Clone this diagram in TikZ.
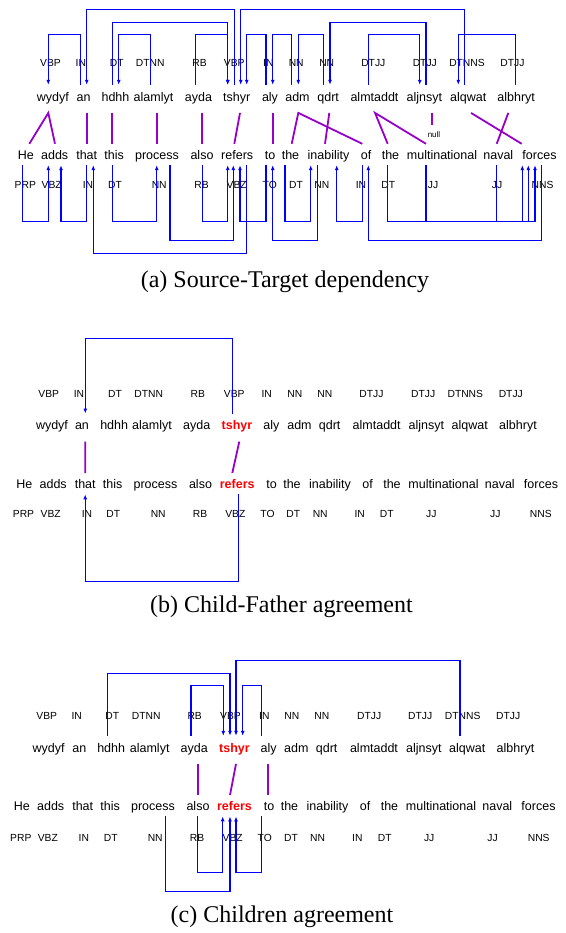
\documentclass[tikz,border=0pt]{standalone}
\usepackage{fontspec}
\setmainfont{Liberation Serif}
\newfontfamily\sansf{Liberation Sans}
\usetikzlibrary{arrows.meta}
\definecolor{deppurple}{RGB}{150,0,200}
\definecolor{depblue}{RGB}{0,0,255}
\newcommand\hlw[1]{\textcolor{red}{\bfseries #1}}
\begin{document}
\begin{tikzpicture}[x=1pt,y=-1pt,
  tw/.style={anchor=base, font=\sansf\fontsize{12.5}{14}\selectfont, inner sep=0pt, text height=16.2pt, text depth=11.5pt},
  bw/.style={anchor=base, font=\sansf\fontsize{12.5}{14}\selectfont, inner sep=0pt, text height=15.7pt, text depth=5.3pt},
  tag/.style={font=\sansf\fontsize{10.3}{12}\selectfont, inner sep=0pt, text height=7.4pt, text depth=0pt},
  nulltag/.style={font=\sansf\fontsize{8}{9}\selectfont, inner xsep=0pt, inner ysep=6.4pt, text height=5.8pt, text depth=0pt},
  dep/.style={draw=depblue, line width=1.1pt, -{Latex[length=5pt,width=4pt]}},
  link/.style={draw=deppurple, line width=1.8pt},
  captext/.style={font=\fontsize{24}{28}\selectfont, inner sep=0pt}]
\useasboundingbox (0,0) rectangle (565,933);

% ================= Panel (a) =================
\foreach \x/\w [count=\i] in {50.5/VBP,80.8/IN,116.7/DT,150.3/DTNN,199.5/RB,234.2/VBP,268.3/IN,296.2/NN,326.7/NN,373.3/DTJJ,424.8/DTJJ,467/DTNNS,512.5/DTJJ}
  \node[tag] (a-ut\i) at (\x,63.3) {\w};
\foreach \x/\w [count=\i] in {52.8/wydyf,83.7/an,115.5/hdhh,153.5/alamlyt,198.5/ayda,236.7/tshyr,270/aly,297.5/adm,328.2/qdrt,374.5/almtaddt,424.3/aljnsyt,468.2/alqwat,516.2/albhryt}
  \node[tw] (a-t\i) at (\x,101.2) {\w};
\foreach \x/\w [count=\i] in {25.8/He,54.7/adds,86.7/that,114.2/this,157/process,202/also,237.2/refers,270.2/to,290.5/the,328.5/inability,366.2/of,390.5/the,442/multinational,498.3/naval,539.5/forces}
  \node[bw] (a-b\i) at (\x,159.7) {\w};
\foreach \x/\w [count=\i] in {25.3/PRP,51.7/VBZ,88/IN,115/DT,159.2/NN,201.5/RB,236.7/VBZ,269.7/TO,296/DT,321.8/NN,361/IN,388.3/DT,433/JJ,497/JJ,542.5/NNS}
  \node[tag] (a-lt\i) at (\x,185) {\w};
\node[nulltag] (a-null) at (434,134.3) {null};

% top dependencies
\draw[dep] ([xshift=-3.4pt]a-t2.north) -- ++(0,-50) -| ([xshift=-4.5pt]a-t1.north);
\draw[dep] ([xshift=-2.4pt]a-t6.north) -- ++(0,-75) -| ([xshift=3pt]a-t2.north);
\draw[dep] ([xshift=-3.2pt]a-t3.north) -- ++(0,-62.5) -| ([xshift=-9pt]a-t6.north);
\draw[dep] ([xshift=-3.2pt]a-t4.north) -- ++(0,-50) -| ([xshift=3.2pt]a-t3.north);
\draw[dep] ([xshift=-2.8pt]a-t5.north) -- ++(0,-50) -| ([xshift=-9pt]a-t6.north);
\draw[dep] ([xshift=-3.9pt]a-t12.north) -- ++(0,-75) -| ([xshift=4pt]a-t6.north);
\draw[dep] ([xshift=-4pt]a-t7.north) -- ++(0,-50) -| ([xshift=10pt]a-t6.north);
\draw[dep] ([xshift=-5.8pt]a-t8.north) -- ++(0,-50) -| ([xshift=2.7pt]a-t7.north);
\draw[dep] ([xshift=-4.9pt]a-t9.north) -- ++(0,-50) -| ([xshift=0.8pt]a-t8.north);
\draw[dep] ([xshift=1.7pt]a-t11.north) -- ++(0,-62.5) -| ([xshift=1.8pt]a-t9.north);
\draw[dep] ([xshift=-6.2pt]a-t10.north) -- ++(0,-50) -| ([xshift=-4.6pt]a-t11.north);
\draw[dep] ([xshift=-0.5pt]a-t13.north) -- ++(0,-50) -| ([xshift=-9.9pt]a-t12.north);

% bottom dependencies
\draw[dep] ([xshift=-3.1pt]a-b1.south) -- ++(0,56) -| ([xshift=-6.4pt]a-b2.south);
\draw[dep] ([xshift=0pt]a-b3.south) -- ++(0,56) -| ([xshift=6.3pt]a-b2.south);
\draw[dep] ([xshift=9.5pt]a-b7.south) -- ++(0,88) -| ([xshift=6.6pt]a-b3.south);
\draw[dep] ([xshift=-1.9pt]a-b4.south) -- ++(0,56) -| ([xshift=-0.3pt]a-b5.south);
\draw[dep] ([xshift=13pt]a-b5.south) -- ++(0,75) -| ([xshift=-3.9pt]a-b7.south);
\draw[dep] ([xshift=0.3pt]a-b6.south) -- ++(0,56) -| ([xshift=-9.5pt]a-b7.south);
\draw[dep] ([xshift=-4.2pt]a-b8.south) -- ++(0,56) -| ([xshift=2.8pt]a-b7.south);
\draw[dep] ([xshift=-10.8pt]a-b10.south) -- ++(0,75) -| ([xshift=2.5pt]a-b8.south);
\draw[dep] ([xshift=-5.5pt]a-b9.south) -- ++(0,56) -| ([xshift=-17.8pt]a-b10.south);
\draw[dep] ([xshift=-3.9pt]a-b11.south) -- ++(0,56) -| ([xshift=8.2pt]a-b10.south);
\draw[dep] ([xshift=2.2pt]a-b15.south) -- ++(0,75) -| ([xshift=2.1pt]a-b11.south);
\draw[dep] ([xshift=-2.8pt]a-b12.south) -- ++(0,56) -| ([xshift=-4.5pt]a-b15.south);
\draw[dep] ([xshift=-16pt]a-b13.south) -- ++(0,56) -| ([xshift=-11.2pt]a-b15.south);
\draw[dep] ([xshift=-1.6pt]a-b14.south) -- ++(0,56) -| ([xshift=-17.2pt]a-b15.south);

% alignment links
\draw[link] ([xshift=3.5pt]a-b1.north) -- ([xshift=-4.5pt]a-t1.south) -- ([xshift=0.3pt]a-b2.north);
\draw[link] ([xshift=3pt]a-t2.south) -- ([xshift=0pt]a-b3.north);
\draw[link] ([xshift=-3.2pt]a-t3.south) -- ([xshift=-1.9pt]a-b4.north);
\draw[link] ([xshift=3.8pt]a-t4.south) -- ([xshift=0.3pt]a-b5.north);
\draw[link] ([xshift=3.2pt]a-t5.south) -- ([xshift=-0.3pt]a-b6.north);
\draw[link] ([xshift=3.3pt]a-t6.south) -- ([xshift=-2.9pt]a-b7.north);
\draw[link] ([xshift=2.7pt]a-t7.south) -- ([xshift=2.5pt]a-b8.north);
\draw[link] ([xshift=1.2pt]a-b9.north) -- ([xshift=0.8pt]a-t8.south) -- ([xshift=-3.9pt]a-b11.north);
\draw[link] ([xshift=1.1pt]a-t9.south) -- ([xshift=-3.5pt]a-b10.north);
\draw[link] ([xshift=-2.8pt]a-b12.north) -- ([xshift=0.5pt]a-t10.south) -- ([xshift=-16pt]a-b13.north);
\draw[link] ([xshift=8pt]a-t11.south) -- ([xshift=-1.7pt]a-null.north);
\draw[link] ([xshift=2.8pt]a-t12.south) -- ([xshift=-17.8pt]a-b15.north);
\draw[link] ([xshift=-7.9pt]a-t13.south) -- ([xshift=-1.6pt]a-b14.north);

\node[captext] (capa) at (285,282) {(a) Source-Target dependency};

% ================= Panel (b) =================
\foreach \x/\w [count=\i] in {48.8/VBP,79/IN,115/DT,148.8/DTNN,197.8/RB,234.2/VBP,266.7/IN,294.8/NN,324.8/NN,371.5/DTJJ,423.2/DTJJ,465.3/DTNNS,510.8/DTJJ}
  \node[tag] (b-ut\i) at (\x,393.3) {\w};
\foreach \x/\w [count=\i] in {52/wydyf,82/an,114.2/hdhh,152/alamlyt,196.7/ayda,237/{\hlw{tshyr}},271.3/aly,299.5/adm,329.7/qdrt,376.7/almtaddt,426.3/aljnsyt,469.7/alqwat,518/albhryt}
  \node[tw] (b-t\i) at (\x,429.9) {\w};
\foreach \x/\w [count=\i] in {24.3/He,53.2/adds,85.2/that,112.7/this,155.5/process,200.5/also,237.2/{\hlw{refers}},271.7/to,292/the,330/inability,367.7/of,392/the,443.5/multinational,499.8/naval,541/forces}
  \node[bw] (b-b\i) at (\x,488.9) {\w};
\foreach \x/\w [count=\i] in {23.5/PRP,50.7/VBZ,87/IN,113.3/DT,158.2/NN,200/RB,235.3/VBZ,267.5/TO,293.3/DT,320.2/NN,359.7/IN,386.7/DT,431.3/JJ,495.3/JJ,540.8/NNS}
  \node[tag] (b-lt\i) at (\x,514) {\w};

\draw[dep] ([xshift=-4.7pt]b-t6.north) -- ++(0,-75.4) -| ([xshift=3.3pt]b-t2.north);
\draw[dep] ([xshift=1.5pt]b-b7.south) -- ++(0,87.5) -| ([xshift=0pt]b-b3.south);
\draw[link] ([xshift=3.3pt]b-t2.south) -- ([xshift=0pt]b-b3.north);
\draw[link] ([xshift=2.3pt]b-t6.south) -- ([xshift=-4.9pt]b-b7.north);

\node[captext] (capb) at (281.5,607) {(b) Child-Father agreement};

% ================= Panel (c) =================
\foreach \x/\w [count=\i] in {46.7/VBP,76.7/IN,112.2/DT,146.3/DTNN,194.7/RB,230.5/VBP,264.3/IN,291.8/NN,321.8/NN,369.2/DTJJ,420.2/DTJJ,462.7/DTNNS,508.2/DTJJ}
  \node[tag] (c-ut\i) at (\x,716) {\w};
\foreach \x/\w [count=\i] in {48.7/wydyf,79.3/an,111.2/hdhh,149.7/alamlyt,194.2/ayda,234.5/{\hlw{tshyr}},268.7/aly,296.3/adm,326.7/qdrt,374/almtaddt,423.8/aljnsyt,467.3/alqwat,515.5/albhryt}
  \node[tw] (c-t\i) at (\x,752.2) {\w};
\foreach \x/\w [count=\i] in {21.8/He,50.7/adds,82.7/that,110.2/this,153/process,198/also,234.5/{\hlw{refers}},269.2/to,289.5/the,327.5/inability,365.2/of,389.5/the,441/multinational,497.3/naval,538.5/forces}
  \node[bw] (c-b\i) at (\x,810.9) {\w};
\foreach \x/\w [count=\i] in {20.8/PRP,47.8/VBZ,83.8/IN,110.8/DT,155.2/NN,197/RB,232.7/VBZ,264.7/TO,291/DT,317.5/NN,357.3/IN,384.7/DT,429.2/JJ,492.5/JJ,538.7/NNS}
  \node[tag] (c-lt\i) at (\x,837.3) {\w};

\draw[dep] ([xshift=-3.5pt]c-t3.north) -- ++(0,-62.5) -| ([xshift=-4.5pt]c-t6.north);
\draw[dep] ([xshift=-3.2pt]c-t5.north) -- ++(0,-50) -| ([xshift=-11.2pt]c-t6.north);
\draw[dep] ([xshift=-7.3pt]c-t12.north) -- ++(0,-75) -| ([xshift=1.5pt]c-t6.north);
\draw[dep] ([xshift=-7pt]c-t7.north) -- ++(0,-50) -| ([xshift=8.2pt]c-t6.north);

\draw[dep] ([xshift=-0.3pt]c-b6.south) -- ++(0,56) -| ([xshift=-11.8pt]c-b7.south);
\draw[dep] ([xshift=12.7pt]c-b5.south) -- ++(0,75.5) -| ([xshift=-4.5pt]c-b7.south);
\draw[dep] ([xshift=-7.5pt]c-b8.south) -- ++(0,56) -| ([xshift=1.5pt]c-b7.south);

\draw[link] ([xshift=3.5pt]c-t5.south) -- ([xshift=-0.3pt]c-b6.north);
\draw[link] ([xshift=1.5pt]c-t6.south) -- ([xshift=-4.5pt]c-b7.north);
\draw[link] ([xshift=-0.4pt]c-t7.south) -- ([xshift=-0.9pt]c-b8.north);

\node[captext] (capc) at (282,917) {(c) Children agreement};
\end{tikzpicture}
\end{document}
